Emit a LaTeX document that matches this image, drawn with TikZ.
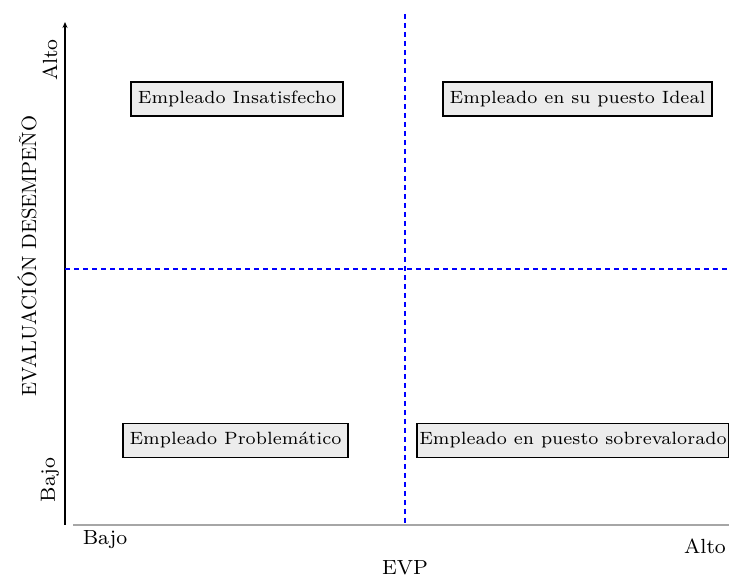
\documentclass[tikz,border=0pt]{standalone}
\usetikzlibrary{arrows.meta}
% text set in a small design size and enlarged, for the wide look
\newcommand{\boxtext}[1]{\scalebox{1.27}{\scriptsize #1}}
\newcommand{\axistext}[1]{\scalebox{1.28}{\footnotesize #1}}
\newcommand{\titletext}[1]{\scalebox{1.03}{\normalsize #1}}
\begin{document}
\begin{tikzpicture}[x=0.5pt,y=-0.5pt,
  quadbox/.style={draw=black,line width=0.9pt,fill=gray!15,inner sep=0pt,
    minimum height=17pt},
  divider/.style={blue,line width=0.7pt,dash pattern=on 2.5pt off 2pt},
  axislabel/.style={inner sep=0pt}]
\useasboundingbox (0,0) rectangle (729,576);
% axes
\coordinate (yb) at (65,525);
\coordinate (yt) at (65,22);
\draw[line width=0.9pt,-{Stealth[length=3pt,width=2.5pt]}] (yb) -- (yt);
\coordinate (xl) at (73,525);
\coordinate (xr) at (729,525);
\draw[gray!70,line width=0.7pt] (xl) -- (xr);
% quadrant dividers
\coordinate (vt) at (405,14);
\coordinate (vb) at (405,525);
\draw[divider] (vt) -- (vb);
\coordinate (hl) at (65,269);
\coordinate (hr) at (729,269);
\draw[divider] (hl) -- (hr);
% quadrants
\node[quadbox,minimum width=106pt] (ins) at (237,99) {\boxtext{Empleado Insatisfecho}};
\node[quadbox,minimum width=134.5pt] (ideal) at (577.5,99) {\boxtext{Empleado en su puesto Ideal}};
\node[quadbox,minimum width=112.5pt] (prob) at (235.5,440.5) {\boxtext{Empleado Problemático}};
\node[quadbox,minimum width=156pt] (sobre) at (573,440.5) {\boxtext{Empleado en puesto sobrevalorado}};
% axis labels
\node[axislabel,rotate=90] (yalto) at (50,60) {\axistext{Alto}};
\node[axislabel,rotate=90] (ybajo) at (50,480) {\axistext{Bajo}};
\node[axislabel,rotate=90] (ytit) at (27,256) {\titletext{EVALUACIÓN DESEMPEÑO}};
\node[axislabel] (xbajo) at (105,540) {\axistext{Bajo}};
\node[axislabel] (xalto) at (705,546) {\axistext{Alto}};
\node[axislabel] (xtit) at (405,568) {\axistext{EVP}};
\end{tikzpicture}
\end{document}
